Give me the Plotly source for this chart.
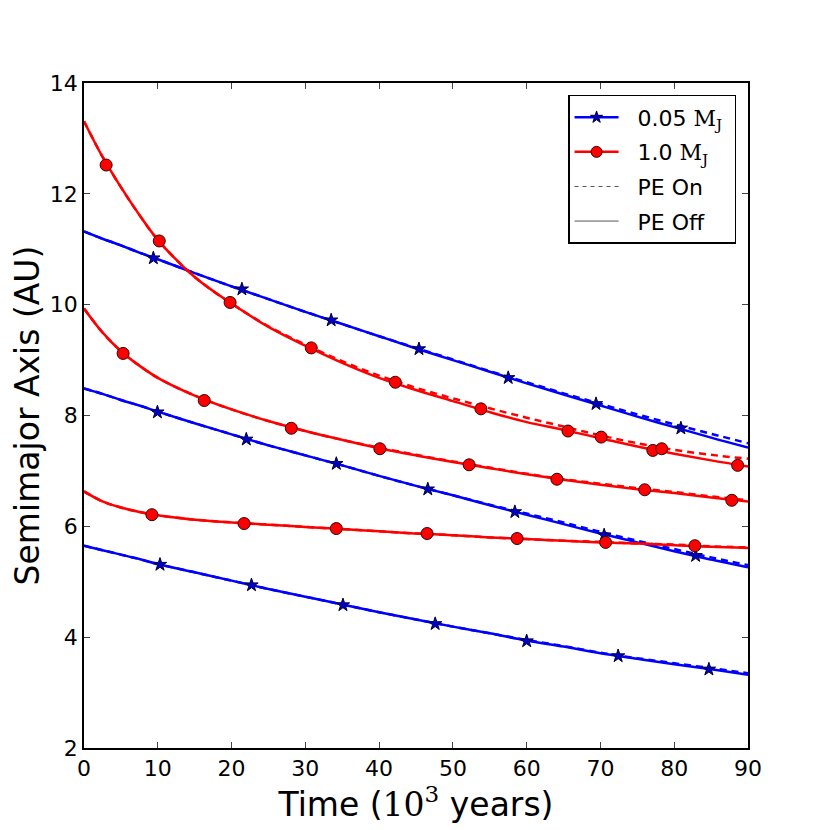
import plotly.graph_objects as go

# time grid (10^3 years) shared by all curves
time = [0, 2.5, 5, 7.5, 10, 15, 20, 25, 30, 35, 40, 45, 50, 55, 60, 65, 70, 75, 80, 85, 90]

# semimajor axis (AU), PE Off (solid) / PE On (dashed)
blue_hi_off = [11.32, 11.19, 11.07, 10.94, 10.82, 10.57, 10.33, 10.10, 9.87, 9.65, 9.43, 9.21, 9.00, 8.79, 8.58, 8.38, 8.18, 7.98, 7.79, 7.60, 7.42]
blue_hi_on = [11.32, 11.19, 11.07, 10.94, 10.82, 10.57, 10.33, 10.10, 9.87, 9.65, 9.43, 9.22, 9.01, 8.80, 8.60, 8.40, 8.21, 8.02, 7.84, 7.67, 7.50]
red_hi_off = [13.31, 12.67, 12.12, 11.62, 11.17, 10.50, 10.02, 9.60, 9.26, 8.95, 8.68, 8.46, 8.26, 8.06, 7.88, 7.74, 7.59, 7.44, 7.31, 7.19, 7.08]
red_hi_on = [13.31, 12.67, 12.12, 11.62, 11.17, 10.50, 10.02, 9.61, 9.28, 8.98, 8.72, 8.50, 8.31, 8.13, 7.96, 7.80, 7.64, 7.50, 7.38, 7.29, 7.22]
red_mid_off = [9.93, 9.50, 9.16, 8.90, 8.68, 8.36, 8.11, 7.90, 7.72, 7.56, 7.41, 7.28, 7.16, 7.05, 6.94, 6.84, 6.75, 6.67, 6.60, 6.52, 6.45]
red_mid_on = [9.93, 9.50, 9.16, 8.90, 8.68, 8.36, 8.11, 7.90, 7.72, 7.56, 7.42, 7.29, 7.17, 7.06, 6.95, 6.85, 6.77, 6.69, 6.62, 6.54, 6.47]
blue_mid_off = [8.49, 8.39, 8.28, 8.18, 8.07, 7.86, 7.66, 7.46, 7.28, 7.10, 6.91, 6.73, 6.56, 6.38, 6.21, 6.04, 5.87, 5.71, 5.55, 5.40, 5.26]
blue_mid_on = [8.49, 8.39, 8.28, 8.18, 8.07, 7.86, 7.66, 7.46, 7.28, 7.10, 6.91, 6.73, 6.56, 6.39, 6.23, 6.07, 5.90, 5.74, 5.59, 5.44, 5.30]
red_lo_off = [6.63, 6.45, 6.34, 6.26, 6.20, 6.12, 6.07, 6.03, 5.99, 5.95, 5.91, 5.87, 5.84, 5.80, 5.77, 5.74, 5.71, 5.69, 5.66, 5.63, 5.61]
red_lo_on = [6.63, 6.45, 6.34, 6.26, 6.20, 6.12, 6.07, 6.03, 5.99, 5.95, 5.91, 5.87, 5.84, 5.80, 5.77, 5.74, 5.72, 5.69, 5.67, 5.64, 5.62]
blue_lo_off = [5.65, 5.57, 5.49, 5.41, 5.32, 5.17, 5.02, 4.87, 4.73, 4.59, 4.45, 4.32, 4.19, 4.07, 3.94, 3.83, 3.71, 3.61, 3.51, 3.42, 3.32]
blue_lo_on = [5.65, 5.57, 5.49, 5.41, 5.32, 5.17, 5.02, 4.87, 4.73, 4.59, 4.45, 4.32, 4.19, 4.07, 3.95, 3.84, 3.72, 3.62, 3.53, 3.44, 3.35]

# sparse marker samples
blue_hi_mk_t = [9.4, 21.4, 33.5, 45.4, 57.5, 69.4, 80.9]
blue_hi_mk_a = [10.84, 10.28, 9.72, 9.20, 8.68, 8.21, 7.77]
red_hi_mk_t = [3.0, 10.2, 19.8, 30.8, 42.2, 53.8, 65.6, 70.1, 77.1, 78.3, 88.6]
red_hi_mk_a = [12.52, 11.15, 10.04, 9.22, 8.60, 8.12, 7.72, 7.61, 7.37, 7.40, 7.10]
red_mid_mk_t = [5.3, 16.3, 28.1, 40.1, 52.2, 64.1, 76.0, 87.8]
red_mid_mk_a = [9.12, 8.27, 7.77, 7.40, 7.11, 6.85, 6.66, 6.47]
blue_mid_mk_t = [9.95, 22.0, 34.2, 46.6, 58.4, 70.5, 82.9]
blue_mid_mk_a = [8.06, 7.57, 7.13, 6.67, 6.26, 5.84, 5.47]
red_lo_mk_t = [9.2, 21.7, 34.2, 46.5, 58.7, 70.7, 82.8]
red_lo_mk_a = [6.21, 6.05, 5.96, 5.87, 5.78, 5.71, 5.65]
blue_lo_mk_t = [10.3, 22.7, 35.1, 47.6, 60.0, 72.4, 84.7]
blue_lo_mk_a = [5.31, 4.94, 4.58, 4.24, 3.93, 3.66, 3.42]

legend_names = ["0.05 M<sub>J</sub>", "1.0 M<sub>J</sub>", "PE On", "PE Off"]

BLUE = "#0000ff"
RED = "#ff0000"
FONT = "DejaVu Sans"

fig = go.Figure()

curves = [
    (blue_hi_off, blue_hi_on, BLUE),
    (red_hi_off, red_hi_on, RED),
    (red_mid_off, red_mid_on, RED),
    (blue_mid_off, blue_mid_on, BLUE),
    (red_lo_off, red_lo_on, RED),
    (blue_lo_off, blue_lo_on, BLUE),
]
for off, on, color in curves:
    fig.add_trace(go.Scatter(x=time, y=off, mode="lines", line=dict(color=color, width=2.5, shape="spline"),
                             showlegend=False, hoverinfo="skip"))
    fig.add_trace(go.Scatter(x=time, y=on, mode="lines",
                             line=dict(color=color, width=2.5, shape="spline", dash="7px,5px"),
                             showlegend=False, hoverinfo="skip"))

star = dict(symbol="star", size=10, color="#0000cc", line=dict(color="#000033", width=1))
dot = dict(symbol="circle", size=12, color=RED, line=dict(color="#330000", width=1))

markers = [
    (blue_hi_mk_t, blue_hi_mk_a, star),
    (red_hi_mk_t, red_hi_mk_a, dot),
    (red_mid_mk_t, red_mid_mk_a, dot),
    (blue_mid_mk_t, blue_mid_mk_a, star),
    (red_lo_mk_t, red_lo_mk_a, dot),
    (blue_lo_mk_t, blue_lo_mk_a, star),
]
for t, a, mk in markers:
    fig.add_trace(go.Scatter(x=t, y=a, mode="markers", marker=mk, showlegend=False))


def label(text):
    # matplotlib-style gap between the legend handle and its text
    text = text.replace("M<sub>J</sub>", "<span style='font-family:DejaVu Serif'>M<sub>J</sub></span>")
    return "\u00a0\u00a0" + text + "\u00a0"


fig.add_trace(go.Scatter(x=[None], y=[None], mode="lines+markers", name=label(legend_names[0]),
                         legendgroup="a", line=dict(color=BLUE, width=2.5),
                         marker=dict(star, size=9)))
fig.add_trace(go.Scatter(x=[None], y=[None], mode="lines+markers", name=label(legend_names[1]),
                         legendgroup="b", line=dict(color=RED, width=2.5),
                         marker=dict(dot, size=11)))
fig.add_trace(go.Scatter(x=[None], y=[None], mode="lines", name=label(legend_names[2]),
                         legendgroup="c", line=dict(color="#555555", width=1, dash="4px,4px")))
fig.add_trace(go.Scatter(x=[None], y=[None], mode="lines", name=label(legend_names[3]),
                         legendgroup="d", line=dict(color="#555555", width=1)))

axis_common = dict(
    showline=True, linecolor="black", linewidth=1.5, mirror="allticks",
    ticks="inside", ticklen=6, tickcolor="#444444", tickwidth=1,
    showgrid=False, zeroline=False, automargin=False,
    tickfont=dict(family=FONT, size=22, color="black"),
)

fig.update_layout(
    width=822, height=822,
    margin=dict(l=76, r=82, t=75, b=82),
    paper_bgcolor="white", plot_bgcolor="white",
    font=dict(family=FONT, color="black"),
    xaxis=dict(range=[0, 90], dtick=10, tick0=0,
               title=dict(text="Time (<span style='font-family:DejaVu Serif'>10<sup>3</sup></span> years)",
                          font=dict(family=FONT, size=33), standoff=6),
               **axis_common),
    yaxis=dict(range=[2, 14], dtick=2, tick0=2,
               title=dict(text="Semimajor Axis (AU)", font=dict(family=FONT, size=33), standoff=14),
               **axis_common),
    legend=dict(x=0.982, y=0.982, xanchor="right", yanchor="top",
                bgcolor="white", bordercolor="black", borderwidth=1.5,
                font=dict(family=FONT, size=22), itemwidth=44, tracegroupgap=3),
)

fig.write_html("out.html")
